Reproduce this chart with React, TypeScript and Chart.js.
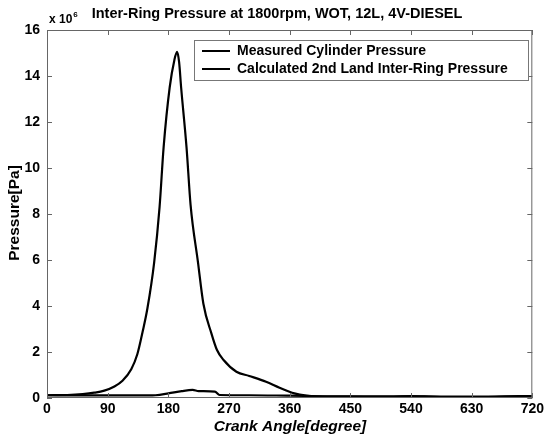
import React, { useEffect, useRef } from "react";
import { Chart, registerables } from "chart.js";

Chart.register(...registerables);

const chartTitle = "Inter-Ring Pressure at 1800rpm, WOT, 12L, 4V-DIESEL";
const xAxisLabel = "Crank Angle[degree]";
const yAxisLabel = "Pressure[Pa]";
const yExponent = "6";
const seriesNames = ["Measured Cylinder Pressure", "Calculated 2nd Land Inter-Ring Pressure"];

const xTicks = [0, 90, 180, 270, 360, 450, 540, 630, 720];
const yTicks = [0, 2, 4, 6, 8, 10, 12, 14, 16];

// pressure in units of 10^6 Pa
const measuredAngle = [
  0, 30, 53, 70, 85, 100, 112, 125, 134, 142, 149, 159, 167, 173, 182, 189, 193, 196,
  199, 207, 213, 224, 232, 244, 252, 262, 281, 300, 325, 345, 367, 385, 400, 450,
  500, 540, 560, 600, 650, 700, 720,
];
const measuredPressure = [
  0.12, 0.13, 0.17, 0.23, 0.32, 0.5, 0.75, 1.25, 1.9, 2.9, 3.9, 5.9, 8.3, 10.9, 13.5, 14.7, 15.05, 14.6,
  13.5, 10.9, 8.4, 5.9, 4.1, 2.8, 2.1, 1.65, 1.14, 0.96, 0.71, 0.45, 0.2, 0.1, 0.07, 0.06,
  0.05, 0.08, 0.07, 0.03, 0.04, 0.08, 0.08,
];

const interRingAngle = [0, 90, 150, 161, 180, 200, 216, 225, 249, 256, 300, 360, 450, 540, 630, 720];
const interRingPressure = [0.12, 0.11, 0.11, 0.12, 0.2, 0.3, 0.35, 0.3, 0.28, 0.13, 0.12, 0.1, 0.07, 0.07, 0.06, 0.07];

const FONT = "'Liberation Sans', Arial, sans-serif";

const decorPlugin = {
  id: "decor",
  afterDraw(chart: any) {
    const ctx = chart.ctx as CanvasRenderingContext2D;
    const a = chart.chartArea;
    const xs = chart.scales.x;
    const ys = chart.scales.y;
    ctx.save();
    // frame
    ctx.strokeStyle = "#666";
    ctx.lineWidth = 1;
    ctx.strokeRect(a.left + 0.5, a.top + 0.5, a.right - a.left - 1, a.bottom - a.top - 1);
    // inward ticks
    ctx.beginPath();
    xTicks.forEach((v) => {
      const px = Math.round(xs.getPixelForValue(v)) + 0.5;
      ctx.moveTo(px, a.bottom);
      ctx.lineTo(px, a.bottom - 5);
      ctx.moveTo(px, a.top);
      ctx.lineTo(px, a.top + 5);
    });
    yTicks.forEach((v) => {
      const py = Math.round(ys.getPixelForValue(v)) + 0.5;
      ctx.moveTo(a.left, py);
      ctx.lineTo(a.left + 5, py);
      ctx.moveTo(a.right, py);
      ctx.lineTo(a.right - 5, py);
    });
    ctx.stroke();

    // title
    ctx.fillStyle = "#000";
    ctx.font = `bold 14.5px ${FONT}`;
    ctx.textAlign = "center";
    ctx.textBaseline = "middle";
    ctx.fillText(chartTitle, 277, 14);

    // exponent
    ctx.textAlign = "left";
    ctx.font = `bold 12px ${FONT}`;
    ctx.fillText("x 10", 49, 20);
    const w = ctx.measureText("x 10").width;
    ctx.font = `bold 8px ${FONT}`;
    ctx.fillText(yExponent, 49 + w + 1, 15);

    // axis labels
    ctx.font = `italic bold 15.5px ${FONT}`;
    ctx.textAlign = "center";
    ctx.fillText(xAxisLabel, 290, 427);
    ctx.save();
    ctx.translate(15, 213);
    ctx.rotate(-Math.PI / 2);
    ctx.font = `bold 15.5px ${FONT}`;
    ctx.fillText(yAxisLabel, 0, 0);
    ctx.restore();

    // legend
    const lx = 194, ly = 40, lw = 334, lh = 40;
    ctx.fillStyle = "#fff";
    ctx.fillRect(lx, ly, lw, lh);
    ctx.strokeStyle = "#777";
    ctx.lineWidth = 1;
    ctx.strokeRect(lx + 0.5, ly + 0.5, lw, lh);
    const rows = [51, 69];
    ctx.font = `bold 14px ${FONT}`;
    ctx.textAlign = "left";
    ctx.textBaseline = "middle";
    rows.forEach((ry, i) => {
      ctx.strokeStyle = "#000";
      ctx.lineWidth = 2;
      ctx.beginPath();
      ctx.moveTo(202, ry);
      ctx.lineTo(230, ry);
      ctx.stroke();
      ctx.fillStyle = "#000";
      ctx.fillText(seriesNames[i], 237, ry);
    });
    ctx.restore();
  },
};

export default function App() {
  const ref = useRef<HTMLCanvasElement>(null);
  useEffect(() => {
    document.body.style.margin = "0";
    const canvas = ref.current!;
    const chart = new Chart(canvas, {
      type: "line",
      data: {
        datasets: [
          {
            label: seriesNames[0],
            data: measuredAngle.map((x, i) => ({ x, y: measuredPressure[i] })),
            borderColor: "#000",
            borderWidth: 2.2,
            pointRadius: 0,
            cubicInterpolationMode: "monotone",
            fill: false,
          },
          {
            label: seriesNames[1],
            data: interRingAngle.map((x, i) => ({ x, y: interRingPressure[i] })),
            borderColor: "#000",
            borderWidth: 2.2,
            pointRadius: 0,
            cubicInterpolationMode: "monotone",
            fill: false,
          },
        ],
      },
      options: {
        responsive: false,
        animation: false,
        layout: { padding: { top: 30, right: 10, left: 0, bottom: 0 } },
        plugins: { legend: { display: false }, title: { display: false }, tooltip: { enabled: false } },
        scales: {
          x: {
            type: "linear",
            min: 0,
            max: 720,
            afterBuildTicks: (s: any) => {
              s.ticks = xTicks.map((v) => ({ value: v }));
            },
            afterFit: (s: any) => {
              s.height = 42;
            },
            grid: { display: false, drawTicks: false },
            border: { display: false },
            ticks: {
              padding: 3,
              color: "#000",
              maxRotation: 0,
              autoSkip: false,
              font: { family: FONT, weight: "bold", size: 14 },
            },
          },
          y: {
            type: "linear",
            min: 0,
            max: 16,
            afterBuildTicks: (s: any) => {
              s.ticks = yTicks.map((v) => ({ value: v }));
            },
            afterFit: (s: any) => {
              s.width = 47;
            },
            grid: { display: false, drawTicks: false },
            border: { display: false },
            ticks: {
              padding: 7,
              color: "#000",
              autoSkip: false,
              font: { family: FONT, weight: "bold", size: 14 },
            },
          },
        },
      },
      plugins: [decorPlugin],
    } as any);
    return () => chart.destroy();
  }, []);
  return (
    <div style={{ width: 547, height: 440 }}>
      <canvas ref={ref} width={547} height={440} style={{ display: "block" }} />
    </div>
  );
}
